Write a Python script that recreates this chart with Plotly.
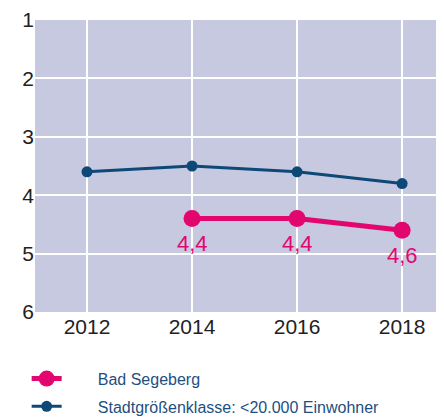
import plotly.graph_objects as go

years_city = [2014, 2016, 2018]
values_city = [4.4, 4.4, 4.6]
years_class = [2012, 2014, 2016, 2018]
values_class = [3.6, 3.5, 3.6, 3.8]
y_ticks = [1, 2, 3, 4, 5, 6]
x_ticks = [2012, 2014, 2016, 2018]

pink = "#e2066f"
blue = "#0d4877"
FONT = "Liberation Sans, Arial, sans-serif"
PAD = "\u00a0" * 7

fig = go.Figure()
fig.add_trace(go.Scatter(
    x=years_city, y=values_city, name=PAD + "Bad Segeberg",
    mode="lines+markers", legendgroup="a",
    line=dict(color=pink, width=5),
    marker=dict(color=pink, size=17),
))
fig.add_trace(go.Scatter(
    x=years_class, y=values_class, name=PAD + "Stadtgrößenklasse: <20.000 Einwohner",
    mode="lines+markers", legendgroup="b",
    line=dict(color=blue, width=3),
    marker=dict(color=blue, size=11),
))

for xv, yv in zip(years_city, values_city):
    fig.add_annotation(
        x=xv, y=yv, xref="x", yref="y",
        text=f"{yv:.1f}".replace(".", ","),
        showarrow=False, yshift=-25,
        font=dict(color=pink, size=22, family=FONT),
    )

fig.update_layout(
    width=444, height=411,
    margin=dict(l=27, r=0, t=12, b=107, autoexpand=False),
    paper_bgcolor="white",
    plot_bgcolor="#c6c9df",
    font=dict(family=FONT, color="#222222"),
    showlegend=True,
    legend=dict(
        x=-0.02, y=-0.17, xanchor="left", yanchor="top",
        font=dict(size=16, color="#1d4f7f"),
        itemwidth=30, tracegroupgap=4,
        bgcolor="rgba(0,0,0,0)",
    ),
    xaxis=dict(
        range=[2011.01, 2018.95], tickvals=x_ticks,
        showgrid=True, gridcolor="white", gridwidth=1.5,
        zeroline=False, showline=False, automargin=False,
        tickfont=dict(size=21, color="#222222"),
        ticks="", ticklen=0,
    ),
    yaxis=dict(
        range=[6, 1], tickvals=y_ticks,
        showgrid=True, gridcolor="white", gridwidth=1.5,
        zeroline=False, showline=False, automargin=False,
        tickfont=dict(size=21, color="#222222"),
        ticks="", ticklen=0,
    ),
)

fig.write_html("out.html")
